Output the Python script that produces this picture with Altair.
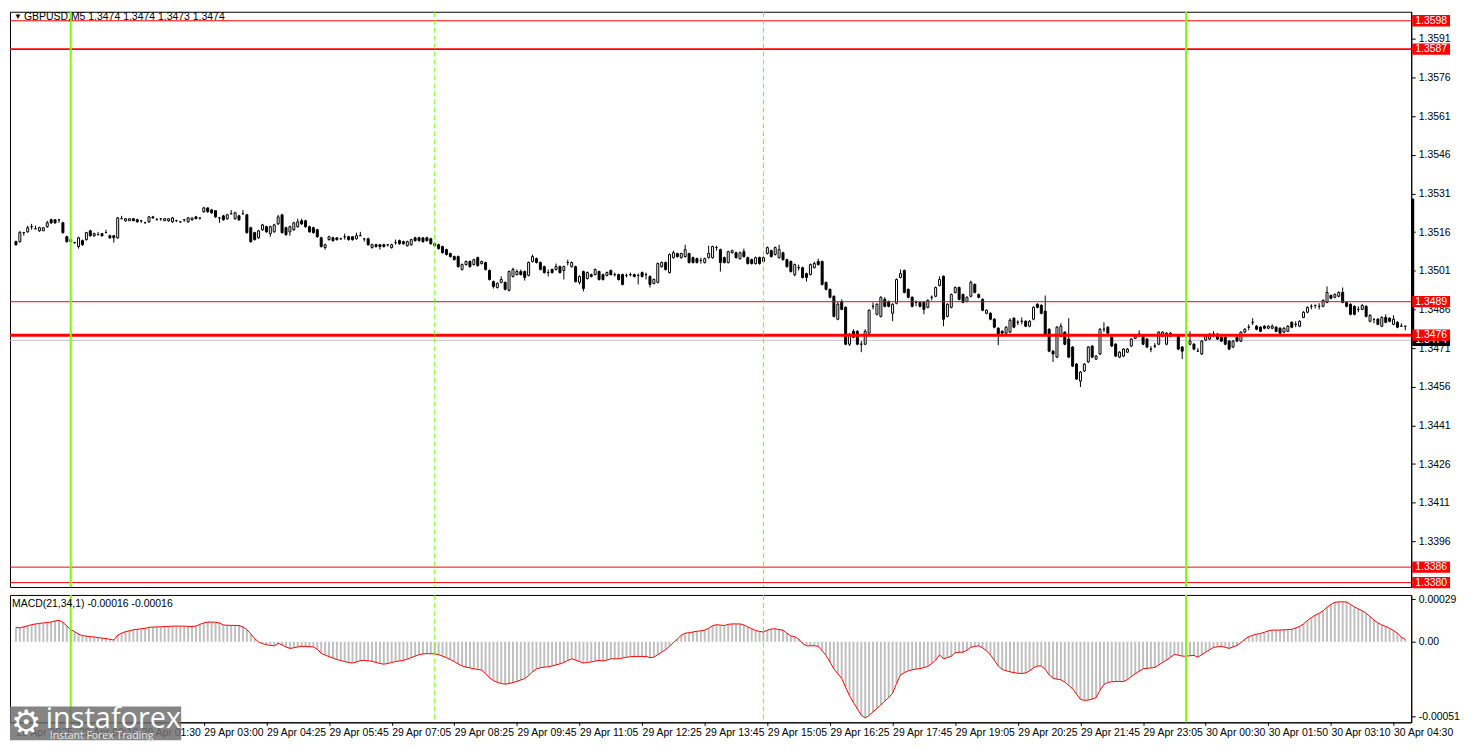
import altair as alt
import pandas as pd

# ---------------- data (prices as pips above BASE_PRICE) ----------------
BASE_PRICE = 1.3400

OPEN_PIPS = [
112.3,112.3,115.8,116.1,118.1,117.3,116.5,116.5,118.1,120.8,
120.8,120.8,119.6,114.2,113.1,111.9,110.4,112.7,113.1,116.5,
114.6,115.0,115.4,115.8,114.6,114.6,113.8,121.2,120.4,120.4,
121.2,120.8,120.4,119.6,120.0,121.9,120.8,121.2,120.4,120.4,
120.0,120.4,120.0,120.8,120.0,120.8,121.9,121.5,123.9,125.4,
124.6,124.3,121.5,122.3,121.2,123.1,121.2,122.3,123.1,122.7,
117.7,115.8,113.8,116.9,118.1,115.4,116.1,119.2,122.7,117.7,
116.1,116.9,118.1,120.4,120.4,118.1,117.7,116.9,113.8,110.0,
113.1,113.8,113.8,113.4,114.2,114.2,114.2,113.4,114.6,113.4,
113.4,110.0,111.1,111.1,111.1,111.1,110.0,111.9,112.7,112.3,
110.7,111.1,113.8,113.8,113.8,113.8,113.4,110.7,111.1,110.4,
109.2,107.7,106.5,106.5,101.5,103.4,104.6,103.4,106.1,103.8,
104.2,101.1,96.8,94.5,96.5,96.5,93.4,98.8,99.5,100.7,
100.7,99.2,104.6,105.7,104.2,102.6,100.3,101.5,101.5,102.6,
101.1,104.2,102.6,102.6,96.5,100.7,98.0,99.5,99.5,100.7,
99.5,99.2,101.1,99.5,99.5,99.5,99.2,99.5,99.5,99.2,
100.3,99.5,98.8,96.1,96.5,102.6,104.2,100.3,106.1,107.7,
106.1,106.5,107.7,106.1,105.7,105.0,104.2,106.1,106.1,110.0,
109.2,106.1,104.2,108.0,108.0,105.7,108.4,106.1,105.3,103.8,
106.1,104.6,107.7,108.8,107.3,106.1,108.0,105.3,104.6,99.5,
102.2,102.2,99.9,99.5,102.2,104.6,104.6,96.5,93.8,91.1,
82.2,89.1,86.8,72.5,77.5,77.5,72.5,72.5,76.8,87.2,
84.1,83.3,89.9,89.1,84.5,88.4,98.4,101.1,93.8,90.7,
88.7,88.7,88.7,86.8,90.7,91.1,95.3,98.8,83.3,86.8,
92.6,94.5,91.8,89.1,91.1,95.7,91.8,89.9,84.5,84.5,
82.2,78.7,77.5,76.8,77.2,82.6,81.0,81.4,81.4,79.5,
82.2,88.0,87.6,85.3,78.3,69.8,67.5,75.6,77.2,74.5,
71.4,64.8,58.2,62.1,65.6,71.8,66.7,68.7,78.3,79.1,
75.2,72.5,67.5,67.9,69.4,71.8,74.8,76.4,75.6,74.5,
70.6,71.8,72.5,75.6,72.5,75.6,76.0,75.6,71.4,71.8,
72.5,72.5,69.8,68.7,74.1,74.5,76.4,76.4,75.2,75.2,
73.7,71.4,75.2,73.7,77.2,79.1,81.0,79.5,79.1,79.5,
78.7,78.7,79.1,78.7,77.2,77.5,81.0,80.2,79.5,82.9,
84.9,87.2,87.6,87.2,87.2,88.7,91.4,90.7,91.1,92.6,
88.7,88.0,87.2,86.0,86.0,87.2,81.4,82.2,82.2,79.5,
82.9,82.6,80.2,81.0,79.5,79.5,
]

HIGH_PIPS = [
112.7,116.5,116.1,118.5,119.2,118.5,118.1,117.7,120.4,121.2,
120.8,120.8,120.0,114.6,113.4,112.3,114.2,113.1,116.1,116.9,
115.8,116.1,115.4,116.9,115.0,114.6,121.9,122.3,121.5,121.2,
121.2,121.2,120.4,120.0,122.3,122.3,121.5,121.2,121.5,121.2,
121.9,120.8,120.0,120.8,121.9,121.5,122.3,121.5,125.8,125.4,
125.0,124.3,121.9,122.7,123.1,124.6,123.9,122.7,124.6,123.1,
118.1,116.1,116.9,119.2,118.5,118.5,119.2,122.7,123.1,118.1,
118.5,120.0,121.2,121.2,120.8,118.5,118.1,117.3,114.2,111.5,
114.6,114.2,113.8,113.8,115.4,114.6,114.2,115.8,116.1,113.4,
113.8,111.5,111.5,111.1,111.5,111.1,111.5,113.1,113.1,112.7,
112.7,113.4,114.2,114.2,113.8,114.2,113.8,111.9,111.5,110.7,
109.6,108.0,106.9,106.9,103.8,105.0,105.0,105.7,106.5,105.0,
104.6,101.5,97.2,96.5,98.8,96.8,101.1,102.2,101.5,101.5,
101.1,104.6,107.3,106.1,104.6,103.0,101.5,101.9,103.8,103.0,
103.0,105.3,104.6,103.0,99.2,101.1,100.7,99.9,101.9,101.1,
99.9,100.7,101.5,100.3,99.9,99.9,99.9,100.3,99.9,99.9,
100.7,100.3,99.2,98.0,104.2,104.6,104.6,107.7,108.8,108.0,
108.0,111.1,108.0,106.5,106.1,106.1,106.1,110.7,110.7,110.7,
109.6,106.5,108.8,109.2,108.4,108.4,109.6,106.5,105.7,106.5,
106.5,106.5,110.4,109.2,110.4,111.1,108.4,105.7,105.0,103.8,
103.4,102.6,100.3,103.8,104.6,105.7,105.0,96.8,94.1,91.4,
89.1,89.9,87.2,76.8,78.3,77.9,73.7,78.3,86.0,88.7,
88.4,91.1,90.7,89.5,88.4,98.0,101.5,101.5,94.1,91.1,
89.5,89.1,89.1,89.9,91.4,94.9,98.8,99.2,88.4,92.2,
94.9,94.9,92.2,91.1,97.2,96.1,92.2,90.3,86.0,84.9,
82.6,79.1,77.9,79.5,82.6,82.9,81.8,82.9,81.8,81.8,
87.2,88.4,88.0,91.4,78.7,70.2,79.5,80.6,77.5,82.6,
71.8,65.2,62.1,65.2,71.8,72.1,68.3,78.7,81.0,79.5,
75.6,72.9,69.8,71.0,71.0,74.8,76.0,77.9,76.0,74.8,
71.8,72.9,77.5,77.5,77.2,77.2,76.4,76.0,71.8,72.1,
77.5,72.9,71.0,74.1,76.0,76.8,77.5,76.8,75.6,75.6,
74.1,74.1,75.6,77.5,78.7,80.2,82.6,79.9,79.5,79.9,
79.9,80.2,79.5,79.1,79.1,79.9,81.4,81.4,81.8,85.3,
87.2,88.0,87.6,88.4,89.9,94.9,91.8,92.2,93.0,94.5,
89.1,88.4,87.6,87.2,88.0,87.6,84.1,82.2,82.6,83.3,
84.1,82.9,83.7,81.4,80.6,79.5,
]

LOW_PIPS = [
110.7,111.9,114.6,115.8,116.9,117.3,116.1,116.5,117.7,119.2,
119.2,119.6,115.4,111.9,111.9,111.5,109.6,110.7,112.7,114.2,
114.2,115.0,114.2,115.8,113.4,111.9,113.4,121.2,120.0,120.4,
120.4,119.6,119.6,119.6,119.6,121.2,120.8,120.4,120.4,120.0,
119.6,120.0,119.6,120.0,119.6,120.4,121.2,120.8,123.5,123.5,
123.1,121.5,119.6,120.4,120.8,123.1,120.8,120.4,123.1,115.4,
111.9,112.7,113.4,116.5,115.8,114.2,115.8,118.8,115.4,114.6,
114.6,116.5,117.7,118.8,117.7,115.8,115.4,113.8,110.0,109.2,
112.7,112.3,112.7,113.1,113.1,112.7,112.7,113.1,114.6,112.3,
110.7,109.6,110.0,109.2,110.0,110.4,109.6,111.1,111.1,111.1,
110.4,110.7,112.3,112.3,111.9,112.3,111.1,110.4,109.2,107.7,
106.9,106.1,105.0,102.2,101.1,103.0,102.2,103.0,102.6,103.4,
101.1,97.2,94.1,94.1,96.1,93.4,93.0,98.4,99.2,99.2,
97.2,98.8,104.2,103.8,101.1,99.9,98.8,99.9,101.1,99.9,
97.6,103.0,102.2,96.5,95.7,93.0,97.6,98.4,99.2,97.2,
97.2,98.8,99.2,98.8,97.2,95.3,98.4,98.8,98.4,95.7,
98.4,97.6,94.5,95.7,96.1,102.2,101.1,99.9,105.7,106.1,
105.7,106.1,103.8,103.8,103.8,103.8,103.8,105.7,105.7,108.8,
100.7,103.8,103.8,107.7,105.7,105.3,106.1,103.4,103.4,103.4,
103.4,104.2,107.3,106.1,106.9,105.7,105.0,102.2,100.3,98.8,
101.1,98.0,96.8,99.2,101.9,103.0,95.3,93.4,90.3,82.9,
81.8,85.7,72.1,71.8,74.8,72.1,69.4,72.1,76.4,86.0,
83.7,82.9,86.8,86.8,81.4,88.0,98.0,92.2,90.3,86.8,
87.2,86.8,84.1,86.4,89.5,90.7,94.9,79.5,82.9,86.4,
92.2,89.5,88.4,88.7,90.7,92.2,90.3,85.3,84.1,81.8,
78.7,72.1,76.4,76.4,76.8,78.7,79.9,80.2,79.1,79.1,
81.8,86.4,84.1,76.0,69.4,65.6,67.1,75.2,72.1,67.1,
63.6,58.6,55.9,61.7,65.2,67.1,66.4,68.3,77.2,76.4,
71.4,67.5,67.1,67.5,69.1,71.4,74.5,75.2,72.1,71.0,
69.4,71.0,72.1,75.2,72.1,75.2,75.6,70.2,66.7,71.4,
72.1,70.2,69.8,68.3,73.7,74.1,75.2,74.1,73.3,72.1,
70.2,71.0,73.3,73.3,76.8,77.9,79.9,77.9,77.2,78.3,
78.3,78.3,77.2,76.0,76.8,77.2,78.7,79.1,79.1,82.6,
84.5,86.0,86.4,86.0,86.8,88.4,89.9,90.3,90.7,88.4,
86.8,83.7,83.7,84.9,85.7,82.9,81.0,80.6,79.9,79.1,
80.6,81.0,79.9,78.7,79.5,77.9,
]

CLOSE_PIPS = [
111.1,115.8,115.8,117.7,118.1,117.3,117.7,117.7,119.6,119.6,
119.6,120.8,115.8,112.3,112.3,111.9,113.8,111.1,115.8,114.6,
115.4,115.0,114.6,115.8,113.8,113.8,121.5,121.2,121.2,121.2,
120.4,120.0,120.4,119.6,121.9,121.5,120.8,121.2,121.2,121.2,
121.5,120.4,120.0,120.8,121.5,121.5,121.2,121.5,125.4,123.9,
123.5,121.9,121.5,120.8,122.7,123.1,123.5,120.8,123.1,115.8,
112.3,113.1,116.5,118.8,116.1,118.1,118.8,121.9,115.8,115.0,
118.1,119.6,120.0,119.2,118.1,116.1,115.8,114.2,110.4,111.1,
114.2,112.7,113.1,113.4,114.2,113.1,113.1,114.6,114.6,113.4,
111.1,111.1,110.4,110.4,110.4,111.1,111.1,111.9,111.5,111.5,
112.3,113.1,112.7,112.7,112.3,112.7,111.5,111.5,109.6,108.0,
107.3,106.5,105.3,102.6,103.4,104.6,102.6,105.3,103.0,104.6,
101.5,97.6,94.9,96.1,97.6,93.8,100.7,101.5,100.7,99.5,
98.4,104.2,106.5,104.2,101.5,100.3,100.3,100.3,102.6,100.3,
102.6,104.2,104.2,96.8,98.8,94.1,100.3,98.8,101.5,97.6,
97.6,100.3,99.5,99.5,97.6,95.7,99.2,99.5,98.8,99.2,
98.8,99.5,95.7,97.6,103.8,104.2,101.5,107.3,108.0,106.5,
107.7,109.2,104.2,104.2,104.2,105.0,105.7,107.7,110.4,110.0,
104.2,104.2,108.4,108.8,106.1,108.0,106.5,103.8,103.8,106.1,
103.8,106.1,110.0,106.5,110.0,109.2,105.3,102.6,100.7,103.4,
102.2,98.4,98.4,103.4,103.8,103.4,95.7,93.8,90.7,83.3,
88.0,86.0,72.5,76.4,75.2,72.5,72.5,77.5,85.7,87.2,
88.0,90.7,87.2,87.2,88.0,97.6,99.9,92.6,90.7,87.2,
88.7,87.2,86.0,89.5,90.7,94.5,97.6,82.2,88.0,91.8,
94.5,89.9,88.7,90.7,96.5,92.6,90.7,85.7,85.7,82.2,
79.1,76.4,76.8,79.1,81.8,79.1,81.0,81.4,79.5,81.4,
86.8,86.8,84.5,76.4,69.8,68.7,79.1,79.5,72.5,67.5,
64.0,59.0,61.7,64.8,71.4,67.5,67.9,78.3,78.3,76.8,
71.8,67.9,69.4,70.6,70.6,74.5,75.6,76.4,72.5,71.4,
70.6,71.8,77.2,77.2,76.8,76.8,76.0,70.6,69.8,71.8,
73.7,70.6,69.8,73.7,75.6,76.4,76.4,74.5,73.7,72.5,
70.6,73.7,73.7,77.2,78.3,79.1,81.0,78.3,77.5,78.7,
79.5,79.5,77.5,76.8,78.7,79.5,79.1,80.2,81.4,84.9,
86.8,87.2,87.6,87.2,89.5,92.6,90.3,91.8,92.6,88.7,
87.2,84.1,84.1,86.0,87.6,83.3,83.7,82.2,80.2,82.9,
81.0,81.4,82.2,79.1,79.5,79.5,
]

# MACD(21,34,1) main value, in units of 0.00001
MACD_E5 = [
9.9,9.5,10.2,10.9,11.7,12.2,12.5,12.9,13.2,13.5,
14.2,14.7,13.2,10.9,8.4,6.9,5.2,4.2,3.9,3.5,
3.3,2.9,2.5,2.2,1.7,1.2,4.5,5.9,6.9,7.5,
8.2,8.5,8.9,9.2,9.9,10.0,10.2,10.2,10.5,10.5,
10.7,10.7,10.7,10.7,10.5,10.5,10.7,11.9,12.9,13.5,
13.5,13.3,12.9,11.5,11.3,11.2,11.2,11.1,10.2,8.4,
5.5,2.2,-0.1,-1.3,-1.9,-2.5,-2.7,-1.1,-2.1,-3.5,
-4.5,-4.1,-3.5,-3.1,-3.1,-3.3,-3.5,-5.1,-7.8,-9.1,
-10.1,-11.1,-12.1,-12.8,-13.5,-14.1,-14.5,-13.8,-12.8,-12.7,
-13.0,-13.3,-14.1,-14.8,-15.3,-14.8,-14.1,-13.5,-13.1,-12.7,
-11.8,-10.8,-9.8,-8.8,-8.3,-8.1,-8.1,-8.3,-8.8,-9.8,
-10.8,-12.1,-13.5,-15.1,-16.5,-17.3,-17.8,-18.5,-18.9,-19.3,
-21.8,-24.5,-26.5,-27.7,-28.5,-28.9,-28.5,-27.8,-27.1,-26.1,
-25.1,-23.1,-20.5,-18.5,-17.7,-17.3,-17.1,-16.5,-15.8,-15.1,
-14.1,-12.8,-11.6,-12.5,-13.5,-14.5,-14.1,-13.8,-13.1,-12.7,
-13.1,-12.5,-11.6,-11.6,-11.6,-11.1,-10.5,-10.2,-10.0,-10.0,
-10.0,-10.0,-10.8,-10.5,-8.8,-7.1,-5.3,-3.1,-0.5,1.9,
4.5,5.9,6.2,6.7,7.2,7.5,8.0,9.2,10.9,11.7,
11.4,11.1,11.9,12.2,12.2,12.2,11.5,10.2,8.9,7.7,
7.1,6.7,7.9,8.7,8.9,8.3,8.0,5.9,4.0,3.5,
1.9,-1.1,-2.7,-2.7,-2.7,-3.1,-6.1,-9.3,-13.8,-18.5,
-21.8,-24.9,-31.1,-36.8,-41.5,-45.8,-50.1,-52.0,-50.3,-47.8,
-45.5,-43.1,-40.5,-38.1,-35.1,-28.5,-22.7,-21.1,-19.8,-19.1,
-18.6,-18.3,-17.6,-16.8,-14.8,-12.5,-8.9,-11.6,-10.8,-9.8,
-7.5,-7.1,-7.1,-5.8,-3.8,-3.1,-2.8,-4.1,-6.1,-8.9,
-12.5,-16.5,-18.8,-19.8,-20.5,-21.0,-21.5,-21.6,-21.3,-19.8,
-17.8,-16.5,-16.5,-18.8,-22.5,-24.9,-25.5,-26.0,-27.5,-29.8,
-32.1,-35.8,-39.3,-40.0,-39.8,-39.1,-38.1,-33.1,-29.1,-27.8,
-27.3,-27.1,-27.1,-27.1,-25.8,-23.8,-21.8,-20.1,-18.5,-18.1,
-17.9,-17.5,-15.8,-14.1,-12.5,-10.5,-8.7,-9.1,-9.8,-9.8,
-9.5,-9.3,-10.5,-8.8,-7.1,-5.5,-3.8,-3.5,-3.1,-3.8,
-4.5,-3.5,-2.5,-0.5,1.7,3.5,4.5,5.2,5.7,6.5,
7.5,8.0,8.0,8.0,8.2,8.3,8.5,9.5,10.5,12.2,
14.5,16.5,18.2,19.5,21.2,23.5,25.5,26.9,27.3,27.3,
27.2,25.5,23.9,22.5,21.2,19.5,17.2,14.9,12.9,11.5,
10.5,9.2,7.7,5.9,3.2,1.7,
]

LEVEL_PRICES = [1.3598, 1.3587, 1.3489, 1.3476, 1.3386, 1.3380]
LEVEL_WIDTHS = [1, 2, 1, 3, 1, 1]
BID_PRICE = 1.3474
SPREAD_BAR = [1.3529, 1.3474]
PRICE_TICKS = [1.3591, 1.3576, 1.3561, 1.3546, 1.3531, 1.3516, 1.3501,
               1.3486, 1.3471, 1.3456, 1.3441, 1.3426, 1.3411, 1.3396]
MACD_TICKS = [0.00029, 0.0, -0.00051]
MACD_TICK_LABELS = ["0.00029", "0.00", "-0.00051"]
TIME_TICK_BARS = [0, 16, 32, 48, 64, 80, 96, 112, 128, 144, 160, 176,
                  192, 208, 224, 240, 256, 272, 288, 304, 320, 336, 352]
TIME_LABELS = ["28 Apr 2025", "29 Apr 00:10", "29 Apr 01:30", "29 Apr 03:00",
               "29 Apr 04:25", "29 Apr 05:45", "29 Apr 07:05", "29 Apr 08:25",
               "29 Apr 09:45", "29 Apr 11:05", "29 Apr 12:25", "29 Apr 13:45",
               "29 Apr 15:05", "29 Apr 16:25", "29 Apr 17:45", "29 Apr 19:05",
               "29 Apr 20:25", "29 Apr 21:45", "29 Apr 23:05", "30 Apr 00:30",
               "30 Apr 01:50", "30 Apr 03:10", "30 Apr 04:30"]
DAY_SEPARATOR_BARS = [14, 299]
SESSION_BARS = [107, 191]
MAIN_TITLE = "GBPUSD,M5  1.3474 1.3474 1.3473 1.3474"
MACD_TITLE = "MACD(21,34,1) -0.00016 -0.00016"

# ---------------- build ----------------
FONT = "Liberation Sans"
W = 1408
H_MAIN = 578
H_MACD = 128
n = len(CLOSE_PIPS)

candles = pd.DataFrame({
    "bar": list(range(n)),
    "open": [BASE_PRICE + v / 10000 for v in OPEN_PIPS],
    "high": [BASE_PRICE + v / 10000 for v in HIGH_PIPS],
    "low": [BASE_PRICE + v / 10000 for v in LOW_PIPS],
    "close": [BASE_PRICE + v / 10000 for v in CLOSE_PIPS],
    "macd": [v * 1e-5 for v in MACD_E5],
})

xs = alt.Scale(domain=[-0.25, n - 0.75], nice=False, zero=False)
ys = alt.Scale(domain=[1.33783, 1.36015], nice=False, zero=False)
ms = alt.Scale(domain=[-0.00055, 0.00032], nice=False, zero=False)

price_axis = alt.Axis(orient="right", values=PRICE_TICKS, format=".4f", title=None,
                      labelFont=FONT, labelFontSize=10.5, labelColor="black",
                      tickColor="black", tickSize=4, labelPadding=3,
                      domainColor="black", grid=False, labelOverlap=False)

macd_expr = "datum.value > 0.0001 ? '%s' : (datum.value < -0.0001 ? '%s' : '%s')" % (
    MACD_TICK_LABELS[0], MACD_TICK_LABELS[2], MACD_TICK_LABELS[1])
macd_axis = alt.Axis(orient="right", values=MACD_TICKS, labelExpr=macd_expr, title=None,
                     labelFont=FONT, labelFontSize=10.5, labelColor="black",
                     tickColor="black", tickSize=4, labelPadding=3,
                     domainColor="black", grid=False, labelOverlap=False)

time_expr = "[" + ",".join("'%s'" % s for s in TIME_LABELS) + "][indexof(" + \
    "[" + ",".join(str(b) for b in TIME_TICK_BARS) + "], datum.value)]"
time_axis = alt.Axis(values=TIME_TICK_BARS, labelExpr=time_expr, labelAlign="left",
                     labelFont=FONT, labelFontSize=10.5, labelColor="black",
                     tickColor="black", tickSize=3, labelPadding=2, title=None,
                     grid=False, labelOverlap=False, labelFlush=False, domainColor="black")

X_MAIN = alt.X("bar:Q", scale=xs, axis=None)
X_MACD = alt.X("bar:Q", scale=xs, axis=time_axis)

def py(field):
    return alt.Y(field, scale=ys, axis=price_axis)

def my(field):
    return alt.Y(field, scale=ms, axis=macd_axis)

BOX = "M-1,-0.3H1V0.3H-1Z"
TAG_X = W + 20
DASH = [5, 3]

levels_df = pd.DataFrame({"price": LEVEL_PRICES, "w": LEVEL_WIDTHS,
                          "label": ["%.4f" % p for p in LEVEL_PRICES]})
bid_df = pd.DataFrame({"price": [BID_PRICE], "label": ["%.4f" % BID_PRICE]})
spread_df = pd.DataFrame({"top": [SPREAD_BAR[0]], "bottom": [SPREAD_BAR[1]]})
days_df = pd.DataFrame({"bar": DAY_SEPARATOR_BARS})
sess_df = pd.DataFrame({"bar": SESSION_BARS})
one = alt.Data(values=[{"k": 1}])

bid_line = alt.Chart(bid_df).mark_rule(color="#C0C0C0", strokeWidth=1).encode(y=py("price:Q"))
wicks = alt.Chart(candles).mark_rule(color="black", strokeWidth=1).encode(
    x=X_MAIN, y=py("low:Q"), y2="high:Q")
bodies = alt.Chart(candles).mark_bar(width=2, stroke="black", strokeWidth=1).encode(
    x=X_MAIN, y=py("open:Q"), y2="close:Q",
    fill=alt.condition("datum.close > datum.open", alt.value("white"), alt.value("black")))
levels = alt.Chart(levels_df).mark_rule(color="#FF0000").encode(
    y=py("price:Q"), strokeWidth=alt.StrokeWidth("w:Q", scale=None))
days_main = alt.Chart(days_df).mark_rule(color="#7CFC00", strokeWidth=2).encode(x=X_MAIN)
sess_main = alt.Chart(sess_df).mark_rule(color="#7CFC00", strokeWidth=1, strokeDash=DASH).encode(x=X_MAIN)
spread = alt.Chart(spread_df).mark_rule(color="black", strokeWidth=3).encode(
    x=alt.value(W + 1.5), y=py("top:Q"), y2="bottom:Q")
bid_tag = alt.Chart(bid_df).mark_point(shape=BOX, size=38 * 38, filled=True, fill="black",
                                       opacity=1, strokeWidth=0).encode(x=alt.value(TAG_X), y=py("price:Q"))
bid_txt = alt.Chart(bid_df).mark_text(color="white", font=FONT, fontSize=10.5, align="center",
                                      baseline="middle").encode(x=alt.value(TAG_X), y=py("price:Q"), text="label:N")
lvl_tag = alt.Chart(levels_df).mark_point(shape=BOX, size=38 * 38, filled=True, fill="#FF0000",
                                          opacity=1, strokeWidth=0).encode(x=alt.value(TAG_X), y=py("price:Q"))
lvl_txt = alt.Chart(levels_df).mark_text(color="white", font=FONT, fontSize=10.5, align="center",
                                         baseline="middle").encode(x=alt.value(TAG_X), y=py("price:Q"), text="label:N")
tri = alt.Chart(one).mark_text(text="▼", fontSize=8, color="black", align="left", baseline="middle").encode(
    x=alt.value(4), y=alt.value(5))
title = alt.Chart(one).mark_text(text=MAIN_TITLE, font=FONT, fontSize=10.5, color="black",
                                 align="left", baseline="middle").encode(x=alt.value(14), y=alt.value(5))

main = alt.layer(bid_line, wicks, bodies, levels, days_main, sess_main, spread,
                 bid_tag, bid_txt, lvl_tag, lvl_txt, tri, title).properties(width=W, height=H_MAIN)

hist = alt.Chart(candles).mark_bar(width=2, color="#C0C0C0").encode(
    x=X_MACD, y=my("macd:Q"), y2=alt.datum(0))
mline = alt.Chart(candles).mark_line(color="#FF0000", strokeWidth=1).encode(x=X_MACD, y=my("macd:Q"))
days_macd = alt.Chart(days_df).mark_rule(color="#7CFC00", strokeWidth=2).encode(x=X_MACD)
sess_macd = alt.Chart(sess_df).mark_rule(color="#7CFC00", strokeWidth=1, strokeDash=DASH).encode(x=X_MACD)
mtitle = alt.Chart(one).mark_text(text=MACD_TITLE, font=FONT, fontSize=10.5, color="black",
                                  align="left", baseline="middle").encode(x=alt.value(2), y=alt.value(9))
wm_box = alt.Chart(one).mark_rect(color="#707070", opacity=0.85).encode(
    x=alt.value(0), x2=alt.value(172), y=alt.value(112), y2=alt.value(146))
wm_gear = alt.Chart(one).mark_text(text="⚙", font="DejaVu Sans", fontSize=34, color="white",
                                   align="left", baseline="alphabetic").encode(x=alt.value(1), y=alt.value(140))
wm_name = alt.Chart(one).mark_text(text="instaforex", font="Open Sans", fontSize=29, color="white",
                                   align="left", baseline="alphabetic").encode(x=alt.value(36), y=alt.value(134))
wm_sub = alt.Chart(one).mark_text(text="Instant Forex Trading", font="Open Sans", fontSize=10.5,
                                  color="#e8e8e8", align="left", baseline="alphabetic").encode(
    x=alt.value(40), y=alt.value(145))

macd = alt.layer(hist, mline, days_macd, sess_macd, mtitle, wm_box, wm_gear, wm_name, wm_sub).properties(
    width=W, height=H_MACD)

chart = alt.vconcat(main, macd, spacing=4).properties(
    padding={"left": 0, "top": 0, "right": 0, "bottom": 0},
    background="white",
).configure_view(stroke="black", strokeWidth=1).configure_axis(grid=False)

chart.save("out.html", embed_options={"renderer": "svg", "actions": False})
